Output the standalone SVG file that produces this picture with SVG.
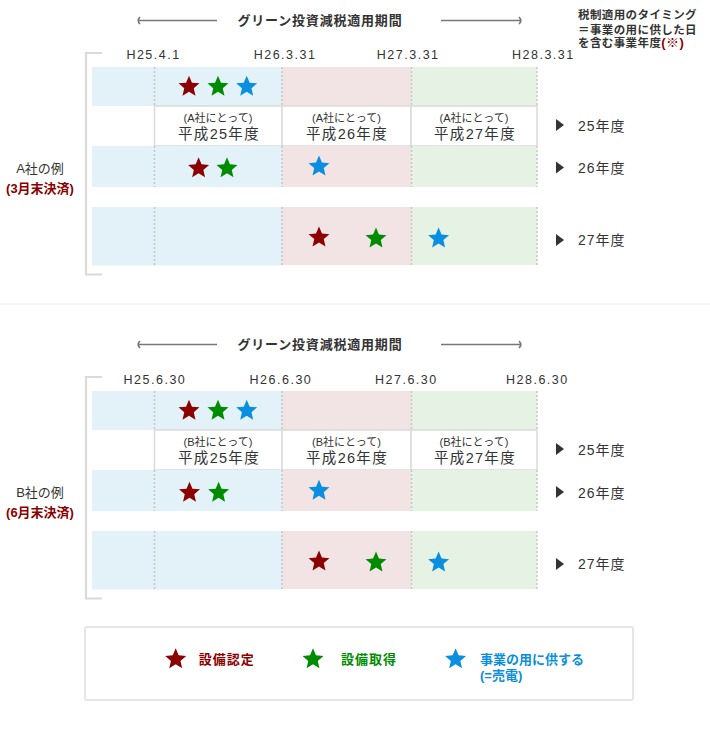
<svg xmlns="http://www.w3.org/2000/svg" xmlns:xlink="http://www.w3.org/1999/xlink" width="710" height="750" viewBox="0 0 710 750">
<style>
text{font-family:"Liberation Sans","Noto Sans CJK JP",sans-serif;fill:#333}
.title{font-size:13px;font-weight:bold;letter-spacing:0.8px}
.note{font-size:11.5px;font-weight:bold;letter-spacing:0.4px}
.mark{font-size:13px;font-weight:bold;fill:#8b0000}
.date{font-size:12.5px;letter-spacing:1.5px}
.sub{font-size:11px;text-anchor:middle}
.fy{font-size:14.5px;text-anchor:middle;letter-spacing:1.3px}
.yr{font-size:14px;letter-spacing:1px}
.co{font-size:13px;text-anchor:middle}
.cored{font-size:13px;text-anchor:middle;font-weight:bold;fill:#8b0000}
.red{fill:#8b0000}
.grn{fill:#008c00}
.blu{fill:#0a8ee0}
.lg{font-size:13px;font-weight:bold}
.bb{fill:#e3f2f9}
.bp{fill:#f2e4e4}
.bg{fill:#e5f2e4}
.dot{stroke:#c6c6c6;stroke-width:1.5;stroke-dasharray:2 2;fill:none}
.cell{fill:#fff;stroke:#dadada;stroke-width:1.5}
.brk{fill:none;stroke:#dadada;stroke-width:2.2}
.arr{fill:none;stroke:#777;stroke-width:1.6}
.tri{fill:#333}
</style>
<defs>
<path id="star" d="M0,-9.95 L2.939,-2.995 L10.462,-2.349 L4.755,2.595 L6.466,9.949 L0,6.05 L-6.466,9.949 L-4.755,2.595 L-10.462,-2.349 L-2.939,-2.995 Z"/>
</defs>

<line x1="0" y1="304" x2="710" y2="304" stroke="#ececec" stroke-width="1"/>

<!-- Section A -->
<g id="sectionA-header">
<line class="arr" x1="139" y1="20.5" x2="217" y2="20.5"/>
<path class="arr" d="M140,17 Q136.5,20.5 140,24"/>
<line class="arr" x1="441" y1="20.5" x2="520" y2="20.5"/>
<path class="arr" d="M519,17 Q522.5,20.5 519,24"/>
<text class="title" x="237.5" y="25">グリーン投資減税適用期間</text>
<text class="note" x="578" y="19">税制適用のタイミング</text>
<text class="note" x="578" y="33.5">＝事業の用に供した日</text>
<text class="note" x="578" y="47">を含む事業年度<tspan class="mark">(※)</tspan></text>
<text class="date" x="126.4" y="59">H25.4.1</text>
<text class="date" x="253.7" y="59">H26.3.31</text>
<text class="date" x="376.8" y="59">H27.3.31</text>
<text class="date" x="512" y="59">H28.3.31</text>
</g>

<g id="sectionA-bracket">
<path class="brk" d="M102,53 H86 V274.5 H102"/>
<text class="co" x="40" y="173">A社の例</text>
<text class="cored" x="40" y="192.5">(3月末決済)</text>
</g>

<g id="sectionA-row1">
<rect class="bb" x="92" y="67" width="190" height="39"/>
<rect class="bp" x="282" y="67" width="129.5" height="39"/>
<rect class="bg" x="411.5" y="67" width="125.5" height="39"/>
<path class="dot" d="M154.5,67V106M282,67V106M411.5,67V106M537,67V106"/>
<use xlink:href="#star" x="189" y="85.7" class="red"/>
<use xlink:href="#star" x="218" y="85.7" class="grn"/>
<use xlink:href="#star" x="246.7" y="85.7" class="blu"/>
</g>

<g id="sectionA-table">
<rect class="cell" x="154.5" y="106" width="127.5" height="40"/>
<rect class="cell" x="282" y="106" width="129" height="40"/>
<rect class="cell" x="411" y="106" width="126" height="40"/>
<text class="sub" x="218" y="122">(A社にとって)</text>
<text class="fy" x="219" y="138.5">平成25年度</text>
<text class="sub" x="346.5" y="122">(A社にとって)</text>
<text class="fy" x="347" y="138.5">平成26年度</text>
<text class="sub" x="474" y="122">(A社にとって)</text>
<text class="fy" x="475" y="138.5">平成27年度</text>
<path class="tri" d="M556,119 L564,125 L556,131 Z"/>
<text class="yr" x="578" y="130.5">25年度</text>
</g>

<g id="sectionA-row3">
<rect class="bb" x="92" y="146" width="190" height="41"/>
<rect class="bp" x="282" y="146" width="129.5" height="41"/>
<rect class="bg" x="411.5" y="146" width="125.5" height="41"/>
<path class="dot" d="M154.5,146V187M282,146V187M411.5,146V187M537,146V187"/>
<use xlink:href="#star" x="198.6" y="167.3" class="red"/>
<use xlink:href="#star" x="227" y="167.3" class="grn"/>
<use xlink:href="#star" x="319" y="165.5" class="blu"/>
<path class="tri" d="M556,161.5 L564,167.5 L556,173.5 Z"/>
<text class="yr" x="578" y="173">26年度</text>
</g>

<g id="sectionA-row4">
<rect class="bb" x="92" y="207" width="190" height="58.5"/>
<rect class="bp" x="282" y="207" width="129.5" height="58"/>
<rect class="bg" x="411.5" y="207" width="125.5" height="58"/>
<path class="dot" d="M154.5,207V265.5M282,207V265M411.5,207V265M537,207V265"/>
<use xlink:href="#star" x="319" y="236.5" class="red"/>
<use xlink:href="#star" x="376" y="237.5" class="grn"/>
<use xlink:href="#star" x="438.6" y="237.5" class="blu"/>
<path class="tri" d="M556,234 L564,240 L556,246 Z"/>
<text class="yr" x="578" y="245">27年度</text>
</g>

<!-- Section B -->
<g id="sectionB-header">
<line class="arr" x1="139" y1="344.5" x2="217" y2="344.5"/>
<path class="arr" d="M140,341 Q136.5,344.5 140,348"/>
<line class="arr" x1="441" y1="344.5" x2="520" y2="344.5"/>
<path class="arr" d="M519,341 Q522.5,344.5 519,348"/>
<text class="title" x="237.5" y="349">グリーン投資減税適用期間</text>
<text class="date" x="123.6" y="384">H25.6.30</text>
<text class="date" x="249.6" y="384">H26.6.30</text>
<text class="date" x="375" y="384">H27.6.30</text>
<text class="date" x="506" y="384">H28.6.30</text>
</g>

<g id="sectionB-bracket">
<path class="brk" d="M102,377 H86 V598.5 H102"/>
<text class="co" x="40" y="497">B社の例</text>
<text class="cored" x="40" y="516.5">(6月末決済)</text>
</g>

<g id="sectionB-row1">
<rect class="bb" x="92" y="391" width="190" height="39"/>
<rect class="bp" x="282" y="391" width="129.5" height="39"/>
<rect class="bg" x="411.5" y="391" width="125.5" height="39"/>
<path class="dot" d="M154.5,391V430M282,391V430M411.5,391V430M537,391V430"/>
<use xlink:href="#star" x="189" y="409.7" class="red"/>
<use xlink:href="#star" x="218" y="409.7" class="grn"/>
<use xlink:href="#star" x="246.7" y="409.7" class="blu"/>
</g>

<g id="sectionB-table">
<rect class="cell" x="154.5" y="430" width="127.5" height="40"/>
<rect class="cell" x="282" y="430" width="129" height="40"/>
<rect class="cell" x="411" y="430" width="126" height="40"/>
<text class="sub" x="218" y="446">(B社にとって)</text>
<text class="fy" x="219" y="462.5">平成25年度</text>
<text class="sub" x="346.5" y="446">(B社にとって)</text>
<text class="fy" x="347" y="462.5">平成26年度</text>
<text class="sub" x="474" y="446">(B社にとって)</text>
<text class="fy" x="475" y="462.5">平成27年度</text>
<path class="tri" d="M556,443 L564,449 L556,455 Z"/>
<text class="yr" x="578" y="454.5">25年度</text>
</g>

<g id="sectionB-row3">
<rect class="bb" x="92" y="470" width="190" height="41"/>
<rect class="bp" x="282" y="470" width="129.5" height="41"/>
<rect class="bg" x="411.5" y="470" width="125.5" height="41"/>
<path class="dot" d="M154.5,470V511M282,470V511M411.5,470V511M537,470V511"/>
<use xlink:href="#star" x="189.5" y="491.7" class="red"/>
<use xlink:href="#star" x="218.6" y="491.7" class="grn"/>
<use xlink:href="#star" x="319" y="489.7" class="blu"/>
<path class="tri" d="M556,486 L564,492 L556,498 Z"/>
<text class="yr" x="578" y="497.5">26年度</text>
</g>

<g id="sectionB-row4">
<rect class="bb" x="92" y="531" width="190" height="58.5"/>
<rect class="bp" x="282" y="531" width="129.5" height="58"/>
<rect class="bg" x="411.5" y="531" width="125.5" height="58"/>
<path class="dot" d="M154.5,531V589.5M282,531V589M411.5,531V589M537,531V589"/>
<use xlink:href="#star" x="319" y="560.5" class="red"/>
<use xlink:href="#star" x="376" y="561.5" class="grn"/>
<use xlink:href="#star" x="438.6" y="561.5" class="blu"/>
<path class="tri" d="M556,558 L564,564 L556,570 Z"/>
<text class="yr" x="578" y="569">27年度</text>
</g>

<!-- Legend -->
<g id="legend">
<rect x="85" y="627" width="548" height="73" rx="2" fill="#fff" stroke="#e6e6e6" stroke-width="2"/>
<use xlink:href="#star" x="175.7" y="658.3" class="red"/>
<text class="lg red" x="198.7" y="664" letter-spacing="1">設備認定</text>
<use xlink:href="#star" x="313" y="658.3" class="grn"/>
<text class="lg grn" x="341" y="664" letter-spacing="1">設備取得</text>
<use xlink:href="#star" x="455.6" y="658.3" class="blu"/>
<text class="lg blu" x="480" y="664">事業の用に供する</text>
<text class="lg blu" x="480" y="680">(=売電)</text>
</g>
</svg>
